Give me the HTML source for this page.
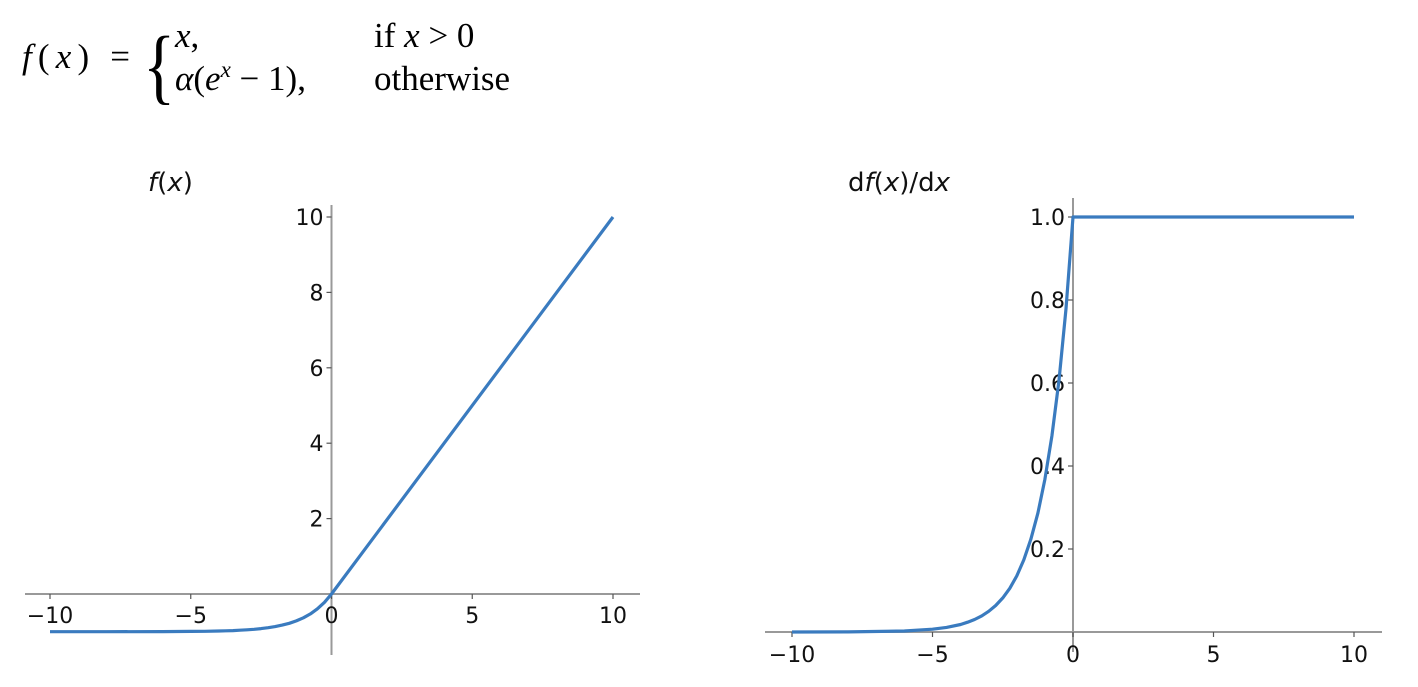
<!DOCTYPE html>
<html><head><meta charset="utf-8"><style>
body{margin:0;background:#fff;width:1418px;height:682px;overflow:hidden}
svg text{font-family:"DejaVu Sans","Liberation Sans",sans-serif}
.m{font-family:"Liberation Serif","DejaVu Serif",serif;font-size:35px;fill:#000}
.t{font-size:22px;fill:#111}
</style></head><body>
<svg id="s" width="1418" height="682" xmlns="http://www.w3.org/2000/svg">
<g>
<text class="m" x="22" y="68" textLength="108" lengthAdjust="spacing"><tspan font-style="italic">f</tspan>(<tspan font-style="italic">x</tspan>) =</text>
<text x="143" y="94" style="font-family:'Liberation Serif',serif;font-size:84px;font-weight:300" transform="translate(143,0) scale(0.8,1) translate(-143,0)">{</text>
<text class="m" x="175" y="47"><tspan font-style="italic">x</tspan>,</text>
<text class="m" x="175" y="90"><tspan font-style="italic">α</tspan>(<tspan font-style="italic">e</tspan><tspan font-style="italic" style="font-size:23px" dy="-13">x</tspan><tspan dy="13"> − 1),</tspan></text>
<text class="m" x="374" y="47">if <tspan font-style="italic">x</tspan> &gt; 0</text>
<text class="m" x="374" y="90">otherwise</text>
</g>
<text x="148" y="191" style="font-size:26px" fill="#111"><tspan font-style="italic">f</tspan>(<tspan font-style="italic">x</tspan>)</text>
<text x="848" y="191" style="font-size:26px" fill="#111">d<tspan font-style="italic">f</tspan>(<tspan font-style="italic">x</tspan>)/d<tspan font-style="italic">x</tspan></text>
<g id="L"></g>
<g id="R"></g>
</svg>
<script>
const xsL=[-10,-8,-6,-5,-4.5,-4,-3.75,-3.5,-3.25,-3,-2.75,-2.5,-2.25,-2,-1.75,-1.5,-1.25,-1,-0.75,-0.5,-0.25,0,10];
const fVals=[-1,-1,-0.998,-0.993,-0.989,-0.982,-0.977,-0.970,-0.961,-0.950,-0.936,-0.918,-0.895,-0.865,-0.826,-0.777,-0.713,-0.632,-0.528,-0.393,-0.221,0,10];
const dVals=[0.00005,0.0003,0.0025,0.0067,0.011,0.018,0.0235,0.030,0.0388,0.0498,0.0639,0.0821,0.1054,0.1353,0.1738,0.2231,0.2865,0.3679,0.4724,0.6065,0.7788,1,1];
const xTicks=[-10,-5,0,5,10];
const xTickLabels=["−10","−5","0","5","10"];
const yTicksL=[2,4,6,8,10];
const yTickLabelsL=["2","4","6","8","10"];
const yTicksR=[0.2,0.4,0.6,0.8,1.0];
const yTickLabelsR=["0.2","0.4","0.6","0.8","1.0"];
const NS="http://www.w3.org/2000/svg";
function mk(p,t,a){const e=document.createElementNS(NS,t);for(const k in a)e.setAttribute(k,a[k]);p.appendChild(e);return e;}
function chart(g,cfg){
 const sx=v=>cfg.x0+(v-cfg.xmin)*cfg.kx, sy=v=>cfg.y0-v*cfg.ky;
 const ax=mk(g,'line',{x1:cfg.axL,x2:cfg.axR,y1:sy(0),y2:sy(0),stroke:'#999','stroke-width':2});
 
 const ay=mk(g,'line',{x1:sx(0),x2:sx(0),y1:cfg.ayT,y2:cfg.ayB,stroke:'#999','stroke-width':2});
 
 xTicks.forEach((v,i)=>{
  mk(g,'line',{x1:sx(v),x2:sx(v),y1:sy(0),y2:sy(0)+5,stroke:'#555','stroke-width':1.2});
  const t=mk(g,'text',{x:sx(v),y:sy(0)+cfg.xly,'text-anchor':'middle',class:'t'});t.textContent=xTickLabels[i];
  
 });
 cfg.yt.forEach((v,i)=>{
  mk(g,'line',{x1:sx(0)-5,x2:sx(0),y1:sy(v),y2:sy(v),stroke:'#555','stroke-width':1.2});
  const t=mk(g,'text',{x:sx(0)-8,y:sy(v)+8,'text-anchor':'end',class:'t'});t.textContent=cfg.yl[i];
  
 });
 const d=xsL.map((x,i)=>(i?'L':'M')+sx(x).toFixed(1)+','+sy(cfg.vals[i]).toFixed(1)).join('');
 const p=mk(g,'path',{d:d,fill:'none',stroke:'#3a7bbf','stroke-width':3.2,'stroke-linejoin':'round'});
 
}
chart(document.getElementById('L'),{x0:50,xmin:-10,kx:28.15,y0:594,ky:37.7,axL:25,axR:640,ayT:205,ayB:655,xly:29,yt:yTicksL,yl:yTickLabelsL,vals:fVals});
chart(document.getElementById('R'),{x0:792,xmin:-10,kx:28.1,y0:632,ky:415,axL:765,axR:1382,ayT:198,ayB:652,xly:30,yt:yTicksR,yl:yTickLabelsR,vals:dVals});
</script>
</body></html>
